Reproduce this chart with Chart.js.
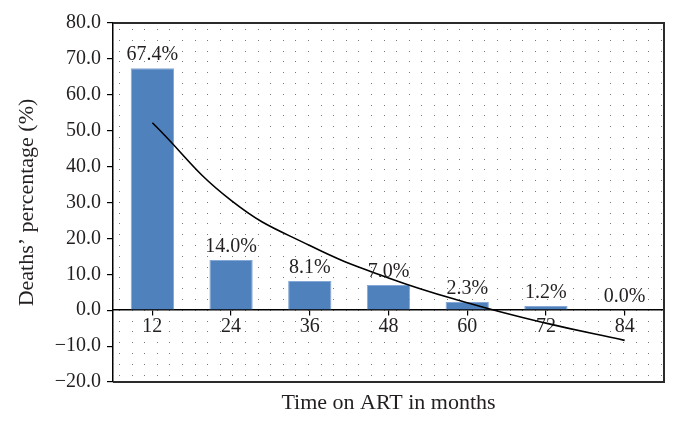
<!DOCTYPE html>
<html>
<head>
<meta charset="utf-8">
<script src="https://cdn.jsdelivr.net/npm/chart.js@4.4.0/dist/chart.umd.min.js"></script>
<style>
  html, body { margin: 0; padding: 0; background: #fff; }
  #wrap { width: 679px; height: 422px; position: relative; }
</style>
</head>
<body>
<div id="wrap"><canvas id="chartDeaths"></canvas></div>
<script>
// months on ART
const months = ['12', '24', '36', '48', '60', '72', '84'];
// deaths percentage per interval
const deaths = [67.4, 14.0, 8.1, 7.0, 2.3, 1.2, 0.0];
// trend curve at each category
const trend = [52.2, 30.6, 18.0, 9.0, 2.1, -3.6, -8.4];
// y axis range
const yTicks = [-20, -10, 0, 10, 20, 30, 40, 50, 60, 70, 80];

const serif = '"Liberation Serif", "DejaVu Serif", serif';
const ink = '#231f20';

// fundo pontilhado da área do gráfico
const dotsPlugin = {
  id: 'dots',
  beforeDatasetsDraw(chart) {
    const a = chart.chartArea;
    const ctx = chart.ctx;
    ctx.save();
    ctx.fillStyle = 'rgba(30,30,30,0.6)';
    for (let x = a.left + 6; x < a.right - 2; x += 12.6) {
      for (let y = a.top + 6; y < a.bottom - 2; y += 10.8) {
        ctx.fillRect(Math.round(x), Math.round(y), 1, 1);
      }
    }
    ctx.restore();
  }
};

// rótulos de porcentagem e moldura
const labelsPlugin = {
  id: 'barLabels',
  afterDatasetsDraw(chart) {
    const ctx = chart.ctx;
    const meta = chart.getDatasetMeta(0);
    ctx.save();
    ctx.font = '20px ' + serif;
    ctx.fillStyle = ink;
    ctx.textAlign = 'center';
    ctx.textBaseline = 'bottom';
    meta.data.forEach((bar, i) => {
      ctx.fillText(deaths[i].toFixed(1) + '%', bar.x, bar.y - 3);
    });
    const a = chart.chartArea;
    ctx.strokeStyle = '#2b2b2b';
    ctx.lineWidth = 2;
    ctx.beginPath();
    ctx.moveTo(a.left, a.top);
    ctx.lineTo(a.right, a.top);
    ctx.lineTo(a.right, a.bottom);
    ctx.lineTo(a.left, a.bottom);
    ctx.stroke();
    ctx.restore();
  }
};

const ctx = document.getElementById('chartDeaths').getContext('2d');
window.chart = new Chart(ctx, {
  type: 'bar',
  data: {
    labels: months,
    datasets: [
      {
        label: 'Deaths',
        data: deaths,
        backgroundColor: '#4f81bd',
        borderColor: '#86a8d6',
        borderWidth: 1,
        categoryPercentage: 1,
        barPercentage: 0.55,
        xAxisID: 'x',
        order: 2
      },
      {
        type: 'line',
        label: 'Trend',
        data: trend,
        borderColor: '#000',
        borderWidth: 1.6,
        pointRadius: 0,
        tension: 0.45,
        fill: false,
        xAxisID: 'x',
        order: 1
      }
    ]
  },
  options: {
    responsive: true,
    maintainAspectRatio: false,
    animation: false,
    layout: { padding: { top: 23, right: 15, left: 0, bottom: 0 } },
    plugins: {
      legend: { display: false },
      tooltip: { enabled: false }
    },
    scales: {
      x: {
        type: 'category',
        position: { y: 0 },
        offset: true,
        grid: { display: true, drawOnChartArea: false, offset: false, tickLength: 5, color: '#000', lineWidth: 1.2 },
        border: { display: true, color: '#000', width: 1.5 },
        ticks: { color: ink, font: { family: serif, size: 20 }, padding: 0, maxRotation: 0 }
      },
      xTitle: {
        type: 'category',
        position: 'bottom',
        grid: { display: false },
        border: { display: false },
        ticks: { display: false },
        title: { display: true, text: 'Time on ART in months', color: ink, font: { family: serif, size: 22 }, padding: { top: 2, bottom: 6 } },
        afterFit(scale) { scale.height = 40; }
      },
      y: {
        min: yTicks[0],
        max: yTicks[yTicks.length - 1],
        afterBuildTicks(scale) { scale.ticks = yTicks.map(v => ({ value: v })); },
        grid: { display: true, drawOnChartArea: false, tickLength: 6, color: '#000', lineWidth: 1.2 },
        border: { display: true, color: '#000', width: 1.5 },
        ticks: {
          color: ink,
          font: { family: serif, size: 20 },
          padding: 6,
          callback: v => v.toFixed(1).replace('-', '\u2212')
        },
        title: { display: true, text: 'Deaths\u2019 percentage (%)', color: ink, font: { family: serif, size: 22 }, padding: { top: 14, bottom: 4 } },
        afterFit(scale) { scale.width = 113; }
      }
    }
  },
  plugins: [dotsPlugin, labelsPlugin]
});
</script>
</body>
</html>
